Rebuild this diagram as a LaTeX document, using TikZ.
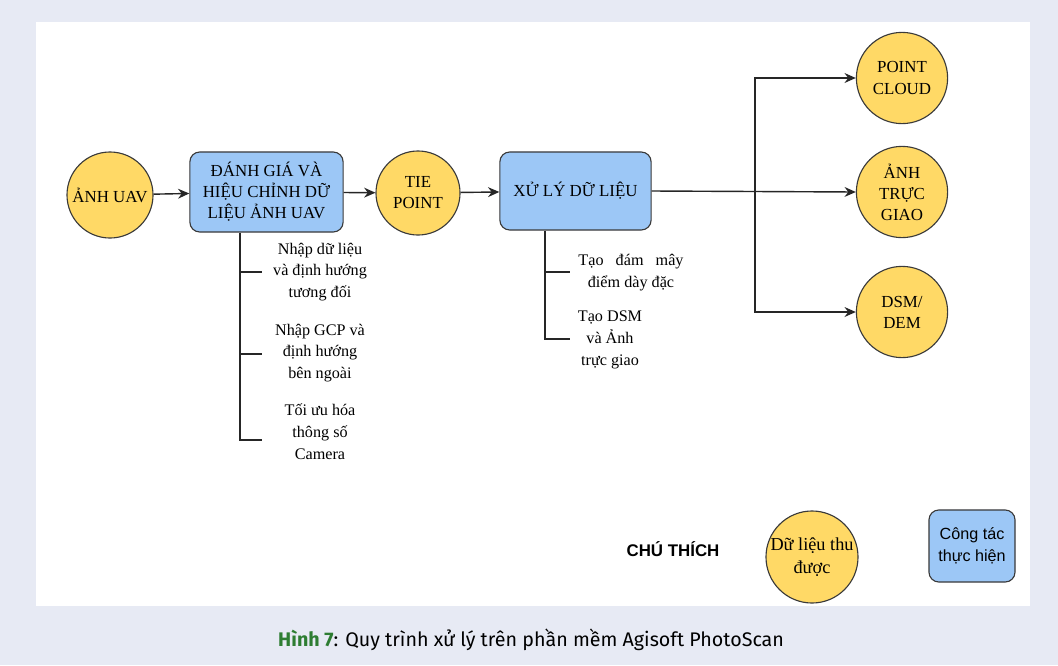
\documentclass[tikz,border=0pt]{standalone}
\usepackage{fontspec}
\usepackage{tikz}
\usetikzlibrary{arrows.meta, positioning, calc}
\setmainfont{Liberation Serif}
\newfontfamily\legfont{Liberation Sans}
\newfontfamily\capfont{Fira Sans}
\definecolor{pagebg}{HTML}{E7EAF4}
\definecolor{datayellow}{HTML}{FFD966}
\definecolor{taskblue}{HTML}{9CC7F6}
\definecolor{edgegray}{HTML}{3A3A3A}
\definecolor{capgreen}{HTML}{2E7D32}

\begin{document}
\begin{tikzpicture}[x=0.025cm, y=-0.025cm,
  data/.style={circle, draw=edgegray, fill=datayellow, line width=0.8pt, minimum size=2.2cm, inner sep=0pt, align=center, font=\fontsize{12}{15}\selectfont},
  task/.style={rectangle, rounded corners=7pt, draw=edgegray, fill=taskblue, line width=0.8pt, inner sep=0pt, align=center, font=\fontsize{12}{15}\selectfont},
  subtxt/.style={align=center, font=\fontsize{11.5}{15.5}\selectfont},
  link/.style={draw=black!85, line width=1pt},
  arr/.style={link, -{Stealth[length=8pt, width=7pt]}}]
% Page and panel
\useasboundingbox[fill=pagebg] (0,0) rectangle (1058,665);
\fill[white] (36,22) rectangle (1030,606);

% Main chain
\node[data, minimum size=2.15cm] (uav) at (110,195) {ẢNH UAV};
\node[task, minimum width=3.83cm, minimum height=2cm] (dg) at (266.5,192) {ĐÁNH GIÁ VÀ\\HIỆU CHỈNH DỮ\\LIỆU ẢNH UAV};
\node[data, minimum size=2.1cm] (tie) at (418,193) {TIE\\POINT};
\node[task, minimum width=3.78cm, minimum height=1.95cm] (xl) at (575.5,191) {XỬ LÝ DỮ LIỆU};
\draw[arr] (uav) -- (dg);
\draw[arr] (dg) -- (tie);
\draw[arr] (tie) -- (xl);

% Products
\node[data, minimum size=2.28cm] (pc) at (902,78) {POINT\\CLOUD};
\node[data, minimum size=2.28cm] (tg) at (902,192) {ẢNH\\TRỰC\\GIAO};
\node[data, minimum size=2.28cm] (dsm) at (902,312) {DSM/\\DEM};
\coordinate (br) at (755,192);
\draw[arr] (xl.east) -- (tg.west);
\draw[arr] (br) |- (pc.west);
\draw[arr] (br) |- (dsm.west);

% Steps under the first box
\coordinate (s1) at (240,440);
\coordinate (t1) at (262,272);
\coordinate (t2) at (262,354);
\coordinate (t3) at (262,440);
\draw[link] (dg.south -| s1) -- (s1) -- (t3);
\draw[link] (t1 -| s1) -- (t1);
\draw[link] (t2 -| s1) -- (t2);
\node[subtxt] (lb1) at (320,272) {Nhập dữ liệu\\và định hướng\\tương đối};
\node[subtxt] (lb2) at (320,353) {Nhập GCP và\\định hướng\\bên ngoài};
\node[subtxt] (lb3) at (320,432) {Tối ưu hóa\\thông số\\Camera};

% Steps under the second box
\coordinate (s2) at (545,339);
\coordinate (u1) at (570,272);
\coordinate (u2) at (570,339);
\draw[link] (xl.south -| s2) -- (s2) -- (u2);
\draw[link] (u1 -| s2) -- (u1);
\node[subtxt] (lx1) at (631,273) {Tạo\enspace\ đám\enspace\ mây\\điểm dày đặc};
\node[subtxt] (lx2) at (610,340) {Tạo DSM\\và Ảnh\\trực giao};

% Legend
\node[font=\legfont\bfseries\fontsize{12}{14}\selectfont] (leg) at (673,549) {CHÚ THÍCH};
\node[data, minimum size=2.3cm, font=\fontsize{13}{16}\selectfont] (legd) at (812,557) {Dữ liệu thu\\được};
\node[task, minimum width=2.15cm, minimum height=1.8cm, font=\legfont\fontsize{11.5}{16}\selectfont] (legt) at (972,546) {Công tác\\thực hiện};

% Caption
\node[font=\capfont\fontsize{14}{17}\selectfont] (cap) at (531,640) {\textcolor{capgreen}{\bfseries Hình 7}: Quy trình xử lý trên phần mềm Agisoft PhotoScan};
\end{tikzpicture}
\end{document}
